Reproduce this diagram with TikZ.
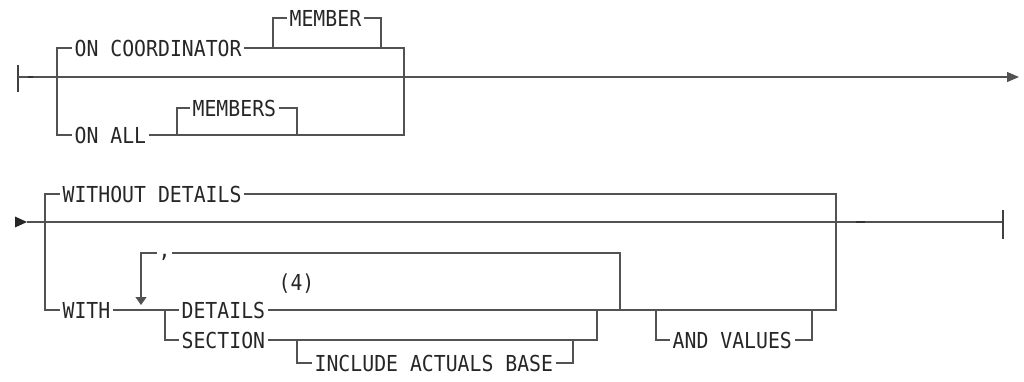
\documentclass[tikz,border=0pt]{standalone}
\usepackage{fontspec}
\newfontfamily\railfont[FakeStretch=0.9]{DejaVu Sans Mono}
\usetikzlibrary{arrows.meta}

\begin{document}
\begin{tikzpicture}[x=1pt,y=-1pt,line width=1.3pt]
 \tikzstyle{kw}=[inner sep=0pt,inner xsep=2pt,anchor=west,text height=16pt,
   text depth=0pt,font=\railfont\fontsize{22pt}{22pt}\selectfont,text=black!85]
 \tikzstyle{rail}=[draw=black!68]
 \tikzstyle{bar}=[draw=black!75,line width=1.6pt]
 \tikzstyle{joint}=[draw=black!80,line width=2pt]
 \useasboundingbox (0,0) rectangle (1024,381);

 % first line: ON COORDINATOR / ON ALL
 \node (coord) [kw] at (72,48) {ON COORDINATOR};
 \node (member) [kw] at (287,18) {MEMBER};
 \node (onall) [kw] at (72,135) {ON ALL};
 \node (members) [kw] at (190,108) {MEMBERS};
 \coordinate (start1) at (18,77);
 \coordinate (end1) at (1019,77);
 \coordinate (left1) at (57,135);
 \coordinate (right1) at (404,135);
 \coordinate (mem1) at (273,48);
 \coordinate (mem2) at (381,48);
 \coordinate (mems1) at (177,135);
 \coordinate (mems2) at (297,135);
 \draw[bar] (18,65) -- (18,92);
 \draw[rail,-{Triangle[length=12pt,width=10pt]}] (start1) -- (end1);
 \draw[joint] (28,77) -- (33,77);
 \draw[rail] (coord.west) -| (left1) -- (onall.west);
 \draw[rail] (coord.east) -| (right1) -- (onall.east);
 \draw[rail] (mem1) |- (member.west);
 \draw[rail] (member.east) -| (mem2);
 \draw[rail] (mems1) |- (members.west);
 \draw[rail] (members.east) -| (mems2);

 % second line: WITHOUT DETAILS / WITH ...
 \node (without) [kw] at (60,194) {WITHOUT DETAILS};
 \node (with) [kw] at (60,310) {WITH};
 \node (details) [kw] at (179,310) {DETAILS};
 \node (section) [kw] at (179,340) {SECTION};
 \node (include) [kw] at (312,363) {INCLUDE ACTUALS BASE};
 \node (andvalues) [kw] at (670,340) {AND VALUES};
 \node (note) [kw] at (276,282) {(4)};
 \node (comma) [kw,anchor=center,inner xsep=1pt,text height=12pt,text depth=3pt]
   at (164.5,253) {,};
 \coordinate (start2) at (27,222);
 \coordinate (end2) at (1003,222);
 \coordinate (left2) at (45,310);
 \coordinate (right2) at (836,310);
 \coordinate (choice) at (165,310);
 \coordinate (sect2) at (597,310);
 \coordinate (inc1) at (297,340);
 \coordinate (inc2) at (573,340);
 \coordinate (and1) at (656,310);
 \coordinate (and2) at (812,310);
 \coordinate (rep1) at (141,305);
 \coordinate (rep2) at (620,310);
 \fill[black!85] (15,216.5) -- (start2) -- (15,227.5) -- cycle;
 \draw[rail] (start2) -- (end2);
 \draw[bar] (1003,210) -- (1003,239);
 \draw[joint] (856,222) -- (865,222);
 \draw[rail] (without.west) -| (left2) -- (with.west);
 \draw[rail] (without.east) -| (right2) -- (details.east);
 \draw[rail] (with.east) -- (choice) -- (details.west);
 \draw[rail] (choice) |- (section.west);
 \draw[rail] (section.east) -| (sect2);
 \draw[rail] (inc1) |- (include.west);
 \draw[rail] (include.east) -| (inc2);
 \draw[rail] (and1) |- (andvalues.west);
 \draw[rail] (andvalues.east) -| (and2);
 \draw[rail,-{Triangle[length=8pt,width=11pt]}] (comma.west) -| (rep1);
 \draw[rail] (comma.east) -| (rep2);
\end{tikzpicture}
\end{document}
